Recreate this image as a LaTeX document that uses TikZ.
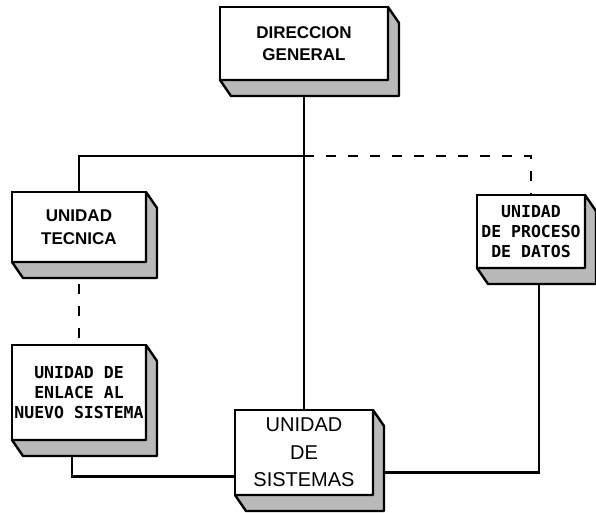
\documentclass[tikz,border=0pt]{standalone}
\usepackage{fontspec}
\setmainfont{Liberation Sans}
\newfontfamily\mydotfont{DejaVu Sans Mono}
\usetikzlibrary{calc}
\pgfdeclarelayer{bg}
\pgfsetlayers{bg,main}
\tikzset{
  face/.style={draw, line width=2.8pt, fill=white, inner sep=0pt, outer sep=0pt, align=center, anchor=center},
  depthfill/.style={draw, line width=2.4pt, fill=gray!55, line join=round},
  conn/.style={line width=2.8pt},
  dconn/.style={line width=2.8pt, dash pattern=on 10pt off 12pt},
  boldtxt/.style={font=\fontsize{17}{22.5}\selectfont\bfseries},
  dottxt/.style={font=\fontsize{16.5}{20}\selectfont\mydotfont\bfseries},
  plaintxt/.style={font=\fontsize{20}{27.5}\selectfont}
}
\newcommand\boxdepth[1]{%
  \filldraw[depthfill] (#1.south west) -- ($(#1.south west)+(11pt,-16pt)$)
    -- ($(#1.south east)+(11pt,-16pt)$) -- ($(#1.north east)+(11pt,-16pt)$)
    -- (#1.north east) -- (#1.south east) -- cycle;}
\begin{document}
\begin{tikzpicture}[x=1pt,y=-1pt]
\useasboundingbox (0,0) rectangle (596,512);
% faces
\node[face, boldtxt, minimum width=168pt, minimum height=73pt] (dg) at (304,43.5) {DIRECCION\\GENERAL};
\node[face, boldtxt, minimum width=134pt, minimum height=70pt] (tec) at (79,227) {UNIDAD\\TECNICA};
\node[face, dottxt, minimum width=108pt, minimum height=73pt] (pro) at (531,231.5) {UNIDAD\\DE PROCESO\\DE DATOS};
\node[face, dottxt, minimum width=134pt, minimum height=95pt] (enl) at (79,392.5) {UNIDAD DE\\ENLACE AL\\NUEVO SISTEMA};
\node[face, plaintxt, minimum width=138pt, minimum height=85pt] (sis) at (304,452.5) {UNIDAD\\DE\\SISTEMAS};
% depth
\boxdepth{dg}
\boxdepth{tec}
\boxdepth{pro}
\boxdepth{enl}
\boxdepth{sis}
% connectors
\coordinate (j) at (304,156);
\begin{pgfonlayer}{bg}
\fill[white] (0,0) rectangle (596,512);
\draw[conn] (dg.south) -- (sis.north);
\draw[conn] (j) -| (tec.north);
\draw[dconn] (j) -| (pro.north);
\draw[dconn] (tec.south) -- (enl.north);
\draw[conn] ([xshift=-7pt]enl.south) |- ([yshift=-24pt]sis.west);
\draw[conn] ([yshift=-20pt]sis.east) -| ([xshift=8pt]pro.south);
\end{pgfonlayer}
\end{tikzpicture}
\end{document}
